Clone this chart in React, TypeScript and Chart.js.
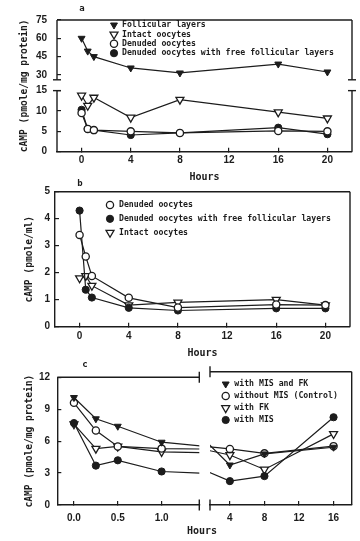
import React, { useEffect, useRef } from 'react';
import { Chart, registerables, LinearScale } from 'chart.js';

Chart.register(...registerables);

// ---------------- data ----------------
// Panel a (cAMP, pmole/mg protein)
const hoursAB = [0, 0.5, 1, 4, 8, 16, 20];
const aFollicular = [60, 49.5, 45, 35.7, 31.6, 38.9, 32.4];
const aIntact = [13.8, 11.3, 13.3, 8.4, 12.8, 9.7, 8.2];
const aDenuded = [9.5, 5.6, 5.3, 5.0, 4.6, 5.1, 5.0];
const aDenudedFL = [10.3, 5.6, 5.3, 4.1, 4.6, 5.9, 4.3];
const aYTicks = [0, 5, 10, 15, 30, 45, 60, 75];
const abXTicks = [0, 4, 8, 12, 16, 20];

// Panel b (cAMP, pmole/ml)
const bDenuded = [3.4, 2.6, 1.88, 1.07, 0.71, 0.82, 0.8];
const bDenudedFL = [4.3, 1.37, 1.08, 0.7, 0.6, 0.68, 0.68];
const bIntact = [1.8, 1.88, 1.52, 0.8, 0.9, 1.0, 0.8];
const bYTicks = [0, 1, 2, 3, 4, 5];

// Panel c (cAMP, pmole/mg protein)
const hoursC = [0, 0.25, 0.5, 1, 4, 8, 16];
const cMisFk = [10.1, 8.1, 7.4, 5.9, 3.6, 4.6, 5.2];
const cControl = [9.6, 7.0, 5.5, 5.3, 5.05, 4.65, 5.3];
const cFk = [7.6, 5.3, 5.5, 5.0, 4.5, 3.2, 6.4];
const cMis = [7.7, 3.7, 4.2, 3.15, 2.15, 2.6, 7.9];
const cXTicksEarly = [0, 0.5, 1.0];
const cXTicksLate = [4, 8, 12, 16];
const cYTicks = [0, 3, 6, 9, 12];

const labelsA = ['Follicular layers', 'Intact oocytes', 'Denuded oocytes', 'Denuded oocytes with free follicular layers'];
const labelsB = ['Denuded oocytes', 'Denuded oocytes with free follicular layers', 'Intact oocytes'];
const labelsC = ['with MIS and FK', 'without MIS (Control)', 'with FK', 'with MIS'];

// ---------------- styling ----------------
const INK = '#1c1c1c';
const TICK_FONT = { family: "'Liberation Sans', Arial, sans-serif", size: 10, weight: 'bold' as const };
const TYPE_FAMILY = "'DejaVu Sans Mono', monospace";
const TITLE_FONT = { family: TYPE_FAMILY, size: 9.6, weight: 'bold' as const };
const XTITLE_FONT = { family: TYPE_FAMILY, size: 10, weight: 'bold' as const };

const filledTri = { pointStyle: 'triangle', pointRotation: 180, pointRadius: 4, pointBackgroundColor: INK, pointBorderColor: INK, pointBorderWidth: 1 };
const openTri = { pointStyle: 'triangle', pointRotation: 180, pointRadius: 4.6, pointBackgroundColor: '#ffffff', pointBorderColor: INK, pointBorderWidth: 1.3 };
const openCircle = { pointStyle: 'circle', pointRadius: 3.6, pointBackgroundColor: '#ffffff', pointBorderColor: INK, pointBorderWidth: 1.3 };
const filledCircle = { pointStyle: 'circle', pointRadius: 3.6, pointBackgroundColor: INK, pointBorderColor: INK, pointBorderWidth: 1 };

// broken y axis of panel a: value ranges and the fraction of axis length they occupy
const A_SEGMENTS = [
  { min: 0, max: 15, from: 0, to: 0.4637 },
  { min: 26, max: 75, from: 0.546, to: 1 },
];

class BrokenLinearScale extends LinearScale {
  static id = 'brokenLinear';
  static defaults = {};
  getPixelForValue(value: number) {
    if (value === null || value === undefined || isNaN(value)) return NaN;
    const seg = value > A_SEGMENTS[0].max ? A_SEGMENTS[1] : A_SEGMENTS[0];
    const dec = seg.from + ((value - seg.min) / (seg.max - seg.min)) * (seg.to - seg.from);
    return (this as any).getPixelForDecimal(dec);
  }
  getValueForPixel(pixel: number) {
    const dec = (this as any).getDecimalForPixel(pixel);
    for (const s of A_SEGMENTS) {
      if (dec >= s.from && dec <= s.to) return s.min + ((dec - s.from) / (s.to - s.from)) * (s.max - s.min);
    }
    return NaN;
  }
}
Chart.register(BrokenLinearScale as any);

function series(label: string, xs: number[], ys: number[], style: any, order = 1) {
  return {
    label,
    order,
    data: xs.map((x, i) => ({ x, y: ys[i] })),
    borderColor: INK,
    backgroundColor: INK,
    borderWidth: 1.2,
    fill: false,
    tension: 0,
    pointHoverRadius: style.pointRadius,
    ...style,
  };
}

function axisX(o: any) {
  return {
    type: 'linear',
    position: 'bottom',
    min: o.min,
    max: o.max,
    afterBuildTicks: (s: any) => { s.ticks = o.ticks.map((v: number) => ({ value: v })); },
    afterFit: (s: any) => { s.height = o.size; },
    grid: { display: true, drawOnChartArea: false, drawTicks: true, tickLength: -4, color: INK, lineWidth: 1.2 },
    border: { display: true, color: INK, width: 1.4 },
    ticks: { padding: o.pad, color: INK, font: TICK_FONT, maxRotation: 0, autoSkip: false, callback: o.fmt || ((v: number) => String(v)) },
    title: o.title
      ? { display: true, text: o.title, color: INK, font: XTITLE_FONT, padding: { top: 0, bottom: o.titlePad } }
      : { display: false },
  };
}

function axisY(o: any) {
  return {
    type: o.type || 'linear',
    position: 'left',
    display: o.display === undefined ? true : o.display,
    min: o.min,
    max: o.max,
    afterBuildTicks: (s: any) => { s.ticks = o.ticks.map((v: number) => ({ value: v })); },
    afterFit: (s: any) => { if (o.size !== undefined) s.width = o.size; },
    grid: { display: true, drawOnChartArea: false, drawTicks: true, tickLength: -4, color: INK, lineWidth: 1.2 },
    border: { display: o.border === undefined ? true : o.border, color: INK, width: 1.4 },
    ticks: { padding: o.pad, color: INK, font: TICK_FONT, autoSkip: false, callback: (v: number) => String(v) },
    title: o.title
      ? { display: true, text: o.title, color: INK, font: TITLE_FONT, padding: { top: o.titlePad, bottom: 0 } }
      : { display: false },
  };
}

// frame lines (top/right sides and axis breaks)
function makeFrame(o: any) {
  return {
    id: 'panelFrame',
    afterDraw(chart: any) {
      const { ctx } = chart;
      const { left, right, top, bottom } = chart.chartArea;
      ctx.save();
      ctx.strokeStyle = INK;
      ctx.lineWidth = 1.4;
      const line = (x1: number, y1: number, x2: number, y2: number) => {
        ctx.beginPath();
        ctx.moveTo(x1, y1);
        ctx.lineTo(x2, y2);
        ctx.stroke();
      };
      if (o.top) line(left, top, right, top);
      const sides: number[] = [];
      if (o.left) sides.push(left);
      if (o.right) sides.push(right);
      if (o.yBreak) {
        const ys = chart.scales.y;
        const yLow = ys.getPixelForValue(o.yBreak[0]);
        const yHigh = ys.getPixelForValue(o.yBreak[1]);
        for (const x of sides) {
          line(x, top, x, yHigh);
          line(x, yLow, x, bottom);
          line(x - 4, yHigh, x + 4, yHigh);
          line(x - 4, yLow, x + 4, yLow);
        }
      } else {
        for (const x of sides) line(x, top, x, bottom);
      }
      if (o.xBreak) {
        const x = o.xBreak === 'left' ? left : right;
        line(x, top - 5.5, x, top + 5.5);
        line(x, bottom - 5.5, x, bottom + 5.5);
      }
      ctx.restore();
    },
  };
}

function drawMarker(ctx: CanvasRenderingContext2D, ds: any, x: number, y: number) {
  const r = ds.pointRadius;
  ctx.beginPath();
  if (ds.pointStyle === 'triangle') {
    let rad = ((ds.pointRotation || 0) * Math.PI) / 180;
    ctx.moveTo(x + Math.sin(rad) * r, y - Math.cos(rad) * r);
    rad += (2 * Math.PI) / 3;
    ctx.lineTo(x + Math.sin(rad) * r, y - Math.cos(rad) * r);
    rad += (2 * Math.PI) / 3;
    ctx.lineTo(x + Math.sin(rad) * r, y - Math.cos(rad) * r);
    ctx.closePath();
  } else {
    ctx.arc(x, y, r, 0, Math.PI * 2);
  }
  ctx.fillStyle = ds.pointBackgroundColor;
  ctx.fill();
  ctx.lineWidth = ds.pointBorderWidth;
  ctx.strokeStyle = ds.pointBorderColor;
  ctx.stroke();
}

// legend drawn inside the plot
function makeLegend(o: any) {
  return {
    id: 'panelLegend',
    afterDraw(chart: any) {
      const { ctx } = chart;
      ctx.save();
      ctx.font = `bold ${o.size}px ${TYPE_FAMILY}`;
      ctx.textBaseline = 'middle';
      ctx.textAlign = 'left';
      chart.data.datasets.forEach((ds: any, i: number) => {
        const y = o.y + i * o.dy;
        drawMarker(ctx, ds, o.x, y);
        ctx.fillStyle = INK;
        ctx.fillText(ds.label, o.textX, y);
      });
      ctx.restore();
    },
  };
}

function makeText(items: any[]) {
  return {
    id: 'panelText',
    afterDraw(chart: any) {
      const { ctx } = chart;
      ctx.save();
      ctx.fillStyle = INK;
      ctx.textBaseline = 'middle';
      for (const it of items) {
        ctx.font = it.font;
        ctx.textAlign = it.align || 'center';
        ctx.fillText(it.text, it.x, it.y);
      }
      ctx.restore();
    },
  };
}

const baseOptions = {
  responsive: false,
  maintainAspectRatio: false,
  animation: false,
  events: [],
  plugins: { legend: { display: false }, tooltip: { enabled: false } },
};

function configA() {
  return {
    type: 'line',
    data: {
      datasets: [
        series(labelsA[0], hoursAB, aFollicular, filledTri),
        series(labelsA[1], hoursAB, aIntact, openTri),
        series(labelsA[2], hoursAB, aDenuded, openCircle),
        series(labelsA[3], hoursAB, aDenudedFL, filledCircle),
      ],
    },
    options: {
      ...baseOptions,
      layout: { padding: { left: 0, top: 18, right: 8, bottom: 0 } },
      scales: {
        x: axisX({ min: -2, max: 22, ticks: abXTicks, size: 34.3, pad: 6.3, title: 'Hours', titlePad: 2.5 }),
        y: axisY({ type: 'brokenLinear', min: 0, max: 75, ticks: aYTicks, size: 57, pad: 14, border: false, title: 'cAMP (pmole/mg protein)', titlePad: 19.2 }),
      },
    },
    plugins: [
      makeFrame({ top: true, left: true, right: true, yBreak: [15, 26] }),
      makeLegend({ x: 114, textX: 122, y: 25, dy: 9.4, size: 8.2 }),
      makeText([{ text: 'a', x: 82, y: 9, font: `bold 9px ${TYPE_FAMILY}` }]),
    ],
  };
}

function configB() {
  return {
    type: 'line',
    data: {
      datasets: [
        series(labelsB[0], hoursAB, bDenuded, openCircle),
        series(labelsB[1], hoursAB, bDenudedFL, filledCircle),
        series(labelsB[2], hoursAB, bIntact, openTri),
      ],
    },
    options: {
      ...baseOptions,
      layout: { padding: { left: 0, top: 15.7, right: 10, bottom: 0 } },
      scales: {
        x: axisX({ min: -2, max: 22, ticks: abXTicks, size: 33.3, pad: 7.3, title: 'Hours', titlePad: 1 }),
        y: axisY({ min: 0, max: 5, ticks: bYTicks, size: 55, pad: 9, title: 'cAMP (pmole/ml)', titlePad: 24.2 }),
      },
    },
    plugins: [
      makeFrame({ top: true, right: true }),
      makeLegend({ x: 110, textX: 119, y: 29, dy: 13.8, size: 8.2 }),
      makeText([{ text: 'b', x: 80, y: 8, font: `bold 9px ${TYPE_FAMILY}` }]),
    ],
  };
}

function datasetsC() {
  return [
    series(labelsC[0], hoursC, cMisFk, filledTri),
    series(labelsC[1], hoursC, cControl, openCircle),
    series(labelsC[2], hoursC, cFk, openTri),
    series(labelsC[3], hoursC, cMis, filledCircle, 0),
  ];
}

function configCLeft() {
  return {
    type: 'line',
    data: { datasets: datasetsC() },
    options: {
      ...baseOptions,
      layout: { padding: { left: 0, top: 11.7, right: 160.7, bottom: 0 } },
      scales: {
        x: axisX({ min: -0.19, max: 1.43, ticks: cXTicksEarly, size: 36, pad: 11, fmt: (v: number) => v.toFixed(1) }),
        y: axisY({ min: 0, max: 12, ticks: cYTicks, size: 57.3, pad: 11.3, title: 'cAMP (pmole/mg protein)', titlePad: 23.7 }),
      },
    },
    plugins: [
      makeFrame({ top: true, xBreak: 'right' }),
      makeText([{ text: 'c', x: 85, y: 5, font: `bold 9px ${TYPE_FAMILY}` }]),
    ],
  };
}

function configCRight() {
  return {
    type: 'line',
    data: { datasets: datasetsC() },
    options: {
      ...baseOptions,
      layout: { padding: { left: 210, top: 11.7, right: 8.3, bottom: 0 } },
      scales: {
        x: axisX({ min: 1.7, max: 18.1, ticks: cXTicksLate, size: 36, pad: 11 }),
        y: axisY({ min: 0, max: 12, ticks: cYTicks, display: false }),
      },
    },
    plugins: [
      makeFrame({ top: true, right: true, xBreak: 'left' }),
      makeLegend({ x: 225.7, textX: 234.3, y: 24, dy: 12, size: 8.2 }),
      makeText([{ text: 'Hours', x: 202, y: 171.7, font: `bold 10px ${TYPE_FAMILY}` }]),
    ],
  };
}

function ChartCanvas({ top, height, make }: { top: number; height: number; make: () => any }) {
  const ref = useRef<HTMLCanvasElement | null>(null);
  useEffect(() => {
    if (!ref.current) return;
    const chart = new Chart(ref.current, make());
    return () => chart.destroy();
  }, [make]);
  return (
    <div style={{ position: 'absolute', left: 0, top, width: 360, height }}>
      <canvas ref={ref} width={360} height={height} style={{ width: 360, height, display: 'block' }} />
    </div>
  );
}

export default function App() {
  return (
    <div style={{ position: 'absolute', left: 0, top: 0, width: 360, height: 541, background: '#ffffff', overflow: 'hidden' }}>
      <ChartCanvas top={0} height={186} make={configA} />
      <ChartCanvas top={176} height={184} make={configB} />
      <ChartCanvas top={360} height={181} make={configCLeft} />
      <ChartCanvas top={360} height={181} make={configCRight} />
    </div>
  );
}
